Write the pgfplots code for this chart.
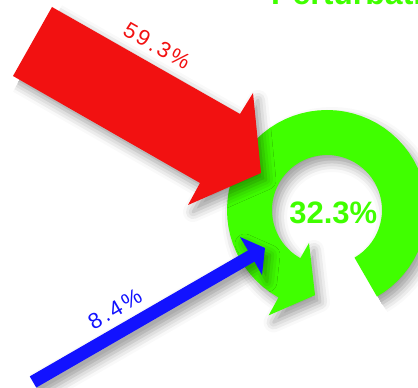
\documentclass[border=0pt]{standalone}
\usepackage{pgfplots}
\pgfplotsset{compat=1.18}
\usepackage{fontspec}
\setmainfont{Liberation Sans}
\newfontfamily\lblfont[LetterSpace=12]{Liberation Sans}
\usetikzlibrary{shadows.blur}
\definecolor{redc}{RGB}{242,17,17}
\definecolor{greenc}{RGB}{64,255,0}
\definecolor{bluec}{RGB}{18,18,255}
\tikzset{myshadow/.style={blur shadow={shadow xshift=5bp, shadow yshift=-7bp, shadow blur radius=10bp, shadow opacity=40}}}
\begin{document}
\begin{tikzpicture}
\begin{axis}[x=1bp, y=1bp, xmin=-327, xmax=91, ymin=-178, ymax=210,
  hide axis, clip=false]
% green circular arrow (polar: angle, radius), centred in the ring
\addplot[data cs=polar, fill=greenc, draw=none, myshadow] coordinates {
(-60,100) (-55,100) (-50,100) (-45,100) (-40,100) (-35,100) (-30,100) (-25,100) (-20,100) (-15,100)
(-10,100) (-5,100) (0,100) (5,100) (10,100) (15,100) (20,100) (25,100) (30,100) (35,100)
(40,100) (45,100) (50,100) (55,100) (60,100) (65,100) (70,100) (75,100) (80,100) (85,100)
(90,100) (95,100) (100,100) (105,100) (110,100) (115,100) (120,100) (125,100) (130,100) (135,100)
(140,100) (145,100) (150,100) (155,100) (160,100) (165,100) (170,100) (175,100) (180,100) (185,100)
(190,100) (195,100) (200,100) (205,100) (210,100) (215,100) (220,100) (225,100) (230,100) (235,100)
(240,100) (241,100)
(241,120.5) (262,86) (241.4,37.6) (241,55)
(240,55) (235,55) (230,55) (225,55) (220,55) (215,55) (210,55) (205,55) (200,55) (195,55)
(190,55) (185,55) (180,55) (175,55) (170,55) (165,55) (160,55) (155,55) (150,55) (145,55)
(140,55) (135,55) (130,55) (125,55) (120,55) (115,55) (110,55) (105,55) (100,55) (95,55)
(90,55) (85,55) (80,55) (75,55) (70,55) (65,55) (60,55) (55,55) (50,55) (45,55)
(40,55) (35,55) (30,55) (25,55) (20,55) (15,55) (10,55) (5,55) (0,55) (-5,55)
(-10,55) (-15,55) (-20,55) (-25,55) (-30,55) (-35,55) (-40,55) (-45,55) (-50,55) (-55,55)
(-60,55)
};
% blue arrow (8.4%)
\addplot[fill=bluec, draw=none, myshadow] coordinates {
(-297.25,-166.4) (-79,-40.4) (-87,-27) (-62,-38) (-65,-65) (-72.5,-51.6) (-290.75,-177.6)
};
% red arrow (59.3%)
\addplot[fill=redc, draw=none, myshadow] coordinates {
(-275,203) (-87,96) (-74,117) (-66,37) (-139,5) (-127,27) (-314,134)
};
\node[rotate=-29.7, text=redc, font=\lblfont\fontsize{22bp}{26bp}\selectfont] at (axis cs:-170,164) {59.3\%};
\node[rotate=30, text=bluec, font=\lblfont\fontsize{22bp}{26bp}\selectfont] at (axis cs:-212,-99) {8.4\%};
\node[text=greenc, font=\bfseries\fontsize{31bp}{36bp}\selectfont] at (axis cs:6.3,-3.3) {32.3\%};
\node[anchor=base west, inner sep=0pt, text=greenc, font=\bfseries\fontsize{32bp}{38bp}\selectfont] at (axis cs:-56,205.3) {Perturbation};
\end{axis}
\pgfresetboundingbox
\useasboundingbox (current axis.south west) rectangle (current axis.north east);
\end{tikzpicture}
\end{document}
